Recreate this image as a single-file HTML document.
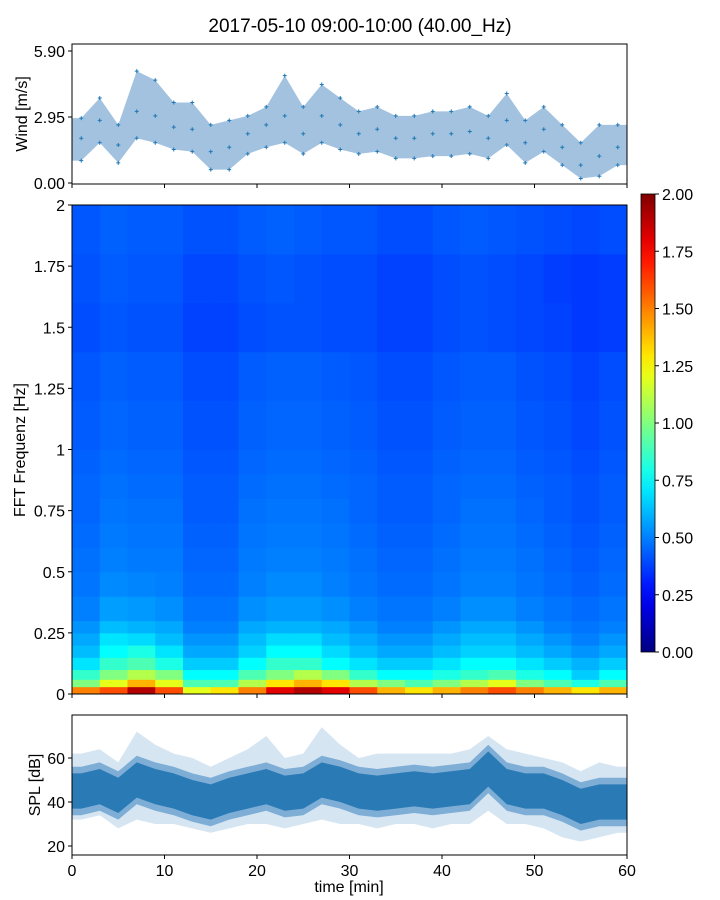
<!DOCTYPE html>
<html><head><meta charset="utf-8">
<style>
html,body{margin:0;padding:0;background:#fff;}
svg{display:block;font-family:"Liberation Sans","DejaVu Sans",sans-serif;}
</style></head>
<body>
<svg id="chart" width="720" height="900" viewBox="0 0 720 900" xmlns="http://www.w3.org/2000/svg"></svg>
<script>
// ---- data ----
const windTimes = [1,3,5,7,9,11,13,15,17,19,21,23,25,27,29,31,33,35,37,39,41,43,45,47,49,51,53,55,57,59];
const windMean = [2.0,2.8,1.7,3.2,3.0,2.5,2.4,1.4,1.6,2.2,2.6,3.0,2.2,3.0,2.6,2.2,2.4,2.0,2.0,2.2,2.2,2.3,2.0,2.8,1.8,2.4,1.6,0.8,1.2,1.6];
const windHi = [2.9,3.8,2.6,5.0,4.6,3.6,3.6,2.6,2.8,3.0,3.4,4.8,3.4,4.4,3.8,3.2,3.4,3.0,3.0,3.2,3.2,3.4,3.0,4.0,2.8,3.4,2.6,1.8,2.6,2.6];
const windLo = [1.0,1.8,0.9,2.0,1.8,1.5,1.4,0.6,0.6,1.3,1.6,1.8,1.3,1.8,1.5,1.3,1.4,1.1,1.1,1.2,1.2,1.3,1.1,1.7,0.9,1.4,0.8,0.2,0.3,0.8];
const windTicks = [0.00,2.95,5.90];

const splTimes = windTimes;
const splMean = [45,47,43,50,47,45,42,40,43,45,47,44,45,50,48,45,44,45,46,45,46,47,55,47,45,45,42,38,40,40];
const splExtHi = [62,64,58,72,66,62,60,56,60,64,70,60,62,74,66,60,62,62,62,62,62,64,70,64,62,60,58,54,58,56];
const splExtLo = [32,34,28,32,30,30,28,26,28,30,30,28,30,32,30,30,28,30,30,28,30,30,36,30,30,28,24,22,24,26];
const splTicks = [20,40,60];

const timeTicks = [0,10,20,30,40,50,60];
const freqEdges = [0,0.03,0.06,0.1,0.15,0.2,0.25,0.3,0.4,0.5,0.6,0.7,0.8,0.9,1.0,1.2,1.4,1.6,1.8,2.0];
const timeEdges = [0,3,6,9,12,15,18,21,24,27,30,33,36,39,42,45,48,51,54,57,60];
const freqTicks = [0,0.25,0.5,0.75,1,1.25,1.5,1.75,2];
const freqTickLabels = ["0","0.25","0.5","0.75","1","1.25","1.5","1.75","2"];
const cbTicks = [0,0.25,0.5,0.75,1,1.25,1.5,1.75,2];
const spec = [
 [1.5,1.6,1.9,1.6,1.2,1.3,1.5,1.8,1.9,1.8,1.6,1.4,1.3,1.4,1.5,1.6,1.5,1.4,1.3,1.4],
 [1.0,1.2,1.4,1.2,0.9,0.9,1.1,1.3,1.4,1.3,1.1,1.0,0.9,1.0,1.1,1.2,1.0,0.9,0.8,0.9],
 [0.85,1.0,1.1,1.0,0.75,0.75,0.9,1.0,1.1,1.0,0.85,0.75,0.75,0.8,0.85,0.9,0.8,0.75,0.65,0.75],
 [0.7,0.85,0.9,0.8,0.65,0.65,0.75,0.85,0.85,0.75,0.7,0.65,0.65,0.7,0.75,0.75,0.7,0.65,0.6,0.65],
 [0.62,0.75,0.8,0.7,0.58,0.58,0.66,0.75,0.75,0.68,0.62,0.58,0.58,0.62,0.66,0.66,0.62,0.58,0.54,0.58],
 [0.58,0.7,0.68,0.62,0.54,0.54,0.62,0.68,0.68,0.62,0.58,0.54,0.54,0.58,0.62,0.62,0.58,0.54,0.5,0.54],
 [0.54,0.62,0.6,0.58,0.5,0.5,0.58,0.6,0.6,0.58,0.54,0.5,0.5,0.54,0.58,0.58,0.54,0.5,0.48,0.5],
 [0.5,0.56,0.55,0.53,0.48,0.48,0.53,0.55,0.55,0.53,0.5,0.48,0.48,0.5,0.53,0.53,0.5,0.48,0.46,0.48],
 [0.48,0.52,0.51,0.5,0.46,0.46,0.5,0.52,0.52,0.5,0.48,0.46,0.46,0.48,0.5,0.5,0.48,0.46,0.44,0.46],
 [0.47,0.5,0.49,0.49,0.45,0.45,0.49,0.5,0.5,0.49,0.47,0.45,0.45,0.47,0.49,0.49,0.47,0.45,0.43,0.45],
 [0.46,0.49,0.48,0.48,0.44,0.44,0.48,0.49,0.49,0.48,0.46,0.44,0.44,0.46,0.48,0.48,0.46,0.44,0.42,0.44],
 [0.45,0.48,0.47,0.47,0.43,0.43,0.47,0.48,0.48,0.47,0.45,0.43,0.43,0.45,0.47,0.47,0.45,0.43,0.41,0.43],
 [0.45,0.47,0.46,0.46,0.43,0.43,0.46,0.47,0.47,0.46,0.45,0.43,0.43,0.45,0.46,0.46,0.44,0.43,0.41,0.43],
 [0.44,0.46,0.45,0.45,0.42,0.42,0.45,0.46,0.46,0.45,0.44,0.42,0.42,0.44,0.45,0.45,0.43,0.42,0.4,0.42],
 [0.43,0.45,0.44,0.44,0.41,0.41,0.44,0.45,0.45,0.44,0.43,0.41,0.41,0.43,0.44,0.44,0.42,0.41,0.39,0.41],
 [0.42,0.44,0.43,0.43,0.4,0.4,0.43,0.44,0.44,0.43,0.42,0.4,0.4,0.42,0.43,0.43,0.41,0.4,0.38,0.4],
 [0.4,0.42,0.41,0.41,0.38,0.38,0.4,0.41,0.41,0.4,0.4,0.38,0.38,0.4,0.41,0.4,0.39,0.38,0.36,0.37],
 [0.41,0.43,0.42,0.42,0.39,0.39,0.41,0.42,0.41,0.4,0.4,0.38,0.38,0.4,0.41,0.4,0.39,0.37,0.36,0.37],
 [0.42,0.44,0.43,0.43,0.41,0.41,0.43,0.44,0.43,0.42,0.42,0.4,0.4,0.42,0.43,0.42,0.41,0.4,0.39,0.4]
];

// ---- layout ----
const L = 72, R = 627;
const X = t => L + (t/60)*(R-L);
const Yw = v => 183 - v*(132/5.9);
const Yf = f => 694 - f*(489/2);
const Ys = d => 846 - (d-20)*2.2;
const Yc = v => 652 - v*(458/2);

const svg = document.getElementById('chart');
const NS = 'http://www.w3.org/2000/svg';
function el(tag, attrs, parent){
  const e = document.createElementNS(NS, tag);
  for (const k in attrs) e.setAttribute(k, attrs[k]);
  (parent||svg).appendChild(e);
  return e;
}
function txt(x,y,s,size,anchor,parent){
  const t = el('text',{x:x,y:y,'font-size':size,'text-anchor':anchor||'middle',fill:'#000'},parent);
  t.textContent = s; return t;
}
function jet(v){
  const x = Math.max(0,Math.min(1,v/2));
  const r = Math.max(0,Math.min(1,1.5-Math.abs(4*x-3)));
  const g = Math.max(0,Math.min(1,1.5-Math.abs(4*x-2)));
  const b = Math.max(0,Math.min(1,1.5-Math.abs(4*x-1)));
  return `rgb(${Math.round(r*255)},${Math.round(g*255)},${Math.round(b*255)})`;
}
const FS = 16;

// title
const title = txt(360,32,'2017-05-10 09:00-10:00 (40.00_Hz)',19);



// ---- wind panel ----
const gw = el('g',{});


let band = 'M'+L+','+Yw(windHi[0]);
windTimes.forEach((t,i)=>{ band += 'L'+X(t)+','+Yw(windHi[i]); });
band += 'L'+R+','+Yw(windHi[windHi.length-1]);
band += 'L'+R+','+Yw(windLo[windLo.length-1]);
for (let i=windTimes.length-1;i>=0;i--) band += 'L'+X(windTimes[i])+','+Yw(windLo[i]);
band += 'L'+L+','+Yw(windLo[0])+'Z';
const wb = el('path',{d:band,fill:'#7aa8d2',opacity:0.7},gw);


windTimes.forEach((t,i)=>{
  [windMean[i],windHi[i],windLo[i]].forEach(v=>{
    const m = el('path',{d:`M${X(t)-2},${Yw(v)}h4M${X(t)},${Yw(v)-2}v4`,stroke:'#1f77b4','stroke-width':1},gw);
    
    
  });
});
const wf = el('rect',{x:L,y:44,width:R-L,height:140,fill:'none',stroke:'#000','stroke-width':1},gw);


windTicks.forEach(v=>{
  el('line',{x1:L-4,x2:L,y1:Yw(v),y2:Yw(v),stroke:'#000'},gw);
  const t = txt(L-7,Yw(v)+6,v.toFixed(2),FS,'end',gw);
  
  
});
timeTicks.forEach(t=>el('line',{x1:X(t),x2:X(t),y1:184,y2:188,stroke:'#000'},gw));
const wl = txt(0,0,'Wind [m/s]',FS,'middle',gw);
wl.setAttribute('transform','translate(27,114) rotate(-90)');



// ---- spectrogram ----
const gh = el('g',{});


spec.forEach((row,i)=>{
  row.forEach((v,j)=>{
    const c = el('rect',{x:X(timeEdges[j]),y:Yf(freqEdges[i+1]),width:X(timeEdges[j+1])-X(timeEdges[j])+0.5,height:Yf(freqEdges[i])-Yf(freqEdges[i+1])+0.5,fill:jet(v)},gh);
    
    
  });
});
const hf = el('rect',{x:L,y:205,width:R-L,height:489,fill:'none',stroke:'#000'},gh);


freqTicks.forEach((f,i)=>{
  el('line',{x1:L-4,x2:L,y1:Yf(f),y2:Yf(f),stroke:'#000'},gh);
  const t = txt(L-7,Yf(f)+6,freqTickLabels[i],FS,'end',gh);
  
  
});
timeTicks.forEach(t=>el('line',{x1:X(t),x2:X(t),y1:694,y2:698,stroke:'#000'},gh));
const fl = txt(0,0,'FFT Frequenz [Hz]',FS,'middle',gh);
fl.setAttribute('transform','translate(25,450) rotate(-90)');



// colorbar
const gc = el('g',{});


const defs = el('defs',{});
const grad = el('linearGradient',{id:'jetg',x1:0,y1:1,x2:0,y2:0},defs);
for (let k=0;k<=20;k++) el('stop',{offset:(k/20),'stop-color':jet(k/10)},grad);
el('rect',{x:641,y:194,width:14,height:458,fill:'url(#jetg)',stroke:'#000','stroke-width':0.8},gc);
cbTicks.forEach(v=>{
  el('line',{x1:655,x2:659,y1:Yc(v),y2:Yc(v),stroke:'#000'},gc);
  const t = txt(662,Yc(v)+6,v.toFixed(2),FS,'start',gc);
  
  
});

// ---- SPL panel ----
const gs = el('g',{});


function bandPath(hi,lo){
  let d = 'M'+L+','+Ys(hi(0));
  splTimes.forEach((t,i)=>{ d += 'L'+X(t)+','+Ys(hi(i)); });
  d += 'L'+R+','+Ys(hi(splTimes.length-1));
  d += 'L'+R+','+Ys(lo(splTimes.length-1));
  for (let i=splTimes.length-1;i>=0;i--) d += 'L'+X(splTimes[i])+','+Ys(lo(i));
  d += 'L'+L+','+Ys(lo(0))+'Z';
  return d;
}
const so = el('path',{d:bandPath(i=>splExtHi[i],i=>splExtLo[i]),fill:'#d6e5f2'},gs);


const sm = el('path',{d:bandPath(i=>splMean[i]+11,i=>splMean[i]-11),fill:'#7eaed6'},gs);


const si = el('path',{d:bandPath(i=>splMean[i]+8,i=>splMean[i]-8),fill:'#2a7ab6'},gs);


const sf = el('rect',{x:L,y:715,width:R-L,height:140,fill:'none',stroke:'#000'},gs);


splTicks.forEach(v=>{
  el('line',{x1:L-4,x2:L,y1:Ys(v),y2:Ys(v),stroke:'#000'},gs);
  const t = txt(L-7,Ys(v)+6,String(v),FS,'end',gs);
  
  
});
timeTicks.forEach(tv=>{
  el('line',{x1:X(tv),x2:X(tv),y1:855,y2:859,stroke:'#000'},gs);
  const t = txt(X(tv),876,String(tv),FS,'middle',gs);
  
  
});
const sl = txt(0,0,'SPL [dB]',FS,'middle',gs);
sl.setAttribute('transform','translate(40,785) rotate(-90)');


const xl = txt(349,892,'time [min]',FS,'middle',gs);


</script>
</body></html>
